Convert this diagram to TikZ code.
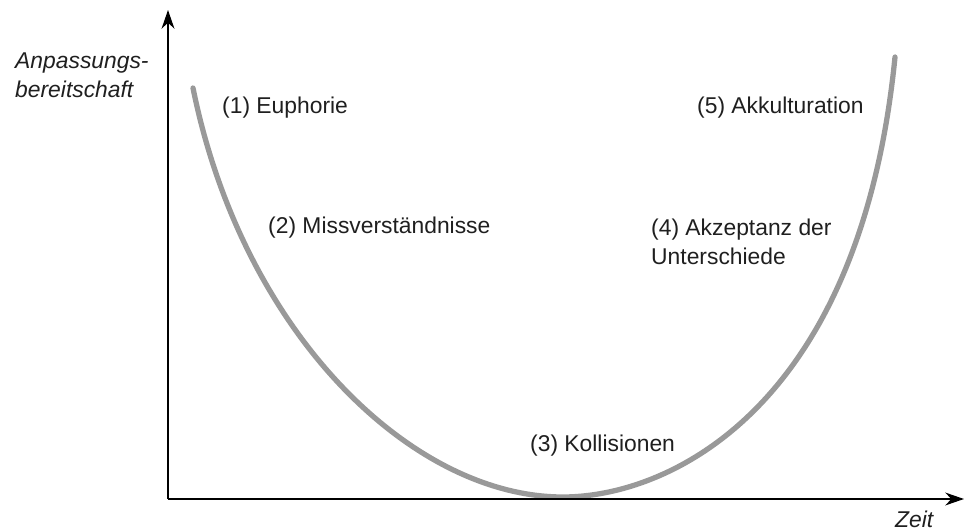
\documentclass[tikz,border=0pt]{standalone}
\usepackage{fontspec}
\setmainfont{Liberation Sans}
\usetikzlibrary{arrows.meta}
\begin{document}
\begin{tikzpicture}[x=0.03cm,y=-0.03cm,
  lbl/.style={anchor=west,inner sep=0pt,text=black!88,font=\fontsize{19.5}{24.5}\selectfont,align=left},
  axlbl/.style={lbl,font=\fontsize{19.5}{24.5}\selectfont\itshape},
  axis/.style={line width=1.5pt,-{Stealth[length=16pt,width=11pt]}},
  curve/.style={line width=4.5pt,draw=black!40,line cap=round}]
\useasboundingbox (0,0) rectangle (969,531);
\coordinate (O) at (168,499);
\coordinate (Ytop) at (168,10);
\coordinate (Xend) at (964,499);
\coordinate (cs) at (193,88);
\coordinate (cm) at (563,497);
\coordinate (ce) at (895,57);
\draw[curve] (cs) .. controls (243,335) and (413,497) .. (cm)
  .. controls (668,497) and (860,410) .. (ce);
\draw[axis] (O) -- (Ytop);
\draw[axis] (O) -- (Xend);
\node[axlbl] (ylab) at (15,75) {Anpassungs-\\bereitschaft};
\node[axlbl] (xlab) at (895,519) {Zeit};
\node[lbl] (p1) at (222,108) {(1) Euphorie};
\node[lbl] (p2) at (268,228) {(2) Missverständnisse};
\node[lbl] (p3) at (530,446) {(3) Kollisionen};
\node[lbl] (p4) at (651,242) {(4) Akzeptanz der\\Unterschiede};
\node[lbl] (p5) at (697,108) {(5) Akkulturation};
\end{tikzpicture}
\end{document}
